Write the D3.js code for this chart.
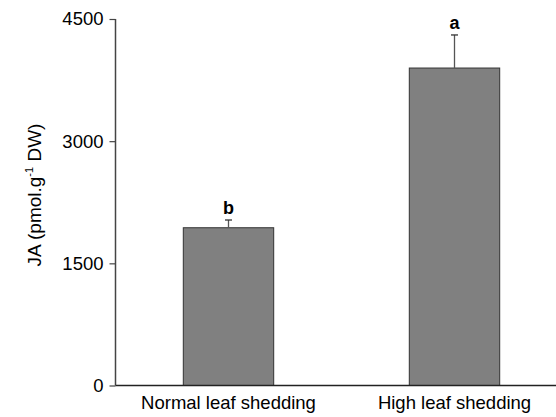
<!DOCTYPE html>
<html>
<head>
<meta charset="utf-8">
<script src="https://cdn.jsdelivr.net/npm/d3@7"></script>
<style>
  html, body { margin: 0; padding: 0; background: #fff; }
  svg { display: block; font-family: "Liberation Sans", Arial, Helvetica, sans-serif; }
</style>
</head>
<body>
<svg id="chart" width="556" height="417"></svg>
<script>
const categories = ["Normal leaf shedding", "High leaf shedding"];
const values = [1937, 3898];
const errors = [95, 406];
const letters = ["b", "a"];
const yTicks = [0, 1500, 3000, 4500];

const svg = d3.select("#chart");
const x0 = 115.5, y0 = 385.5, yTop = 19;

const x = d3.scaleBand().domain(categories).range([x0, 567.5]).paddingInner(0.6).paddingOuter(0.3);
const y = d3.scaleLinear().domain([0, 4500]).range([y0, yTop]);

// bars
svg.selectAll("rect.bar").data(categories).join("rect")
  .attr("class", "bar")
  .attr("x", d => x(d))
  .attr("y", (d, i) => y(values[i]))
  .attr("width", x.bandwidth())
  .attr("height", (d, i) => y0 - y(values[i]))
  .attr("fill", "#808080")
  .attr("stroke", "#333")
  .attr("stroke-width", 1);

// error bars
const eb = svg.selectAll("g.err").data(categories).join("g").attr("class", "err");
eb.append("line")
  .attr("x1", d => x(d) + x.bandwidth() / 2)
  .attr("x2", d => x(d) + x.bandwidth() / 2)
  .attr("y1", (d, i) => y(values[i]))
  .attr("y2", (d, i) => y(values[i] + errors[i]))
  .attr("stroke", "#555").attr("stroke-width", 1.3);
eb.append("line")
  .attr("x1", d => x(d) + x.bandwidth() / 2 - 3.5)
  .attr("x2", d => x(d) + x.bandwidth() / 2 + 3.5)
  .attr("y1", (d, i) => y(values[i] + errors[i]))
  .attr("y2", (d, i) => y(values[i] + errors[i]))
  .attr("stroke", "#333").attr("stroke-width", 1.3);

// significance letters
svg.selectAll("text.sig").data(categories).join("text")
  .attr("class", "sig")
  .attr("x", d => x(d) + x.bandwidth() / 2)
  .attr("y", (d, i) => y(values[i] + errors[i]) - 6)
  .attr("text-anchor", "middle")
  .attr("font-weight", "bold")
  .attr("font-size", 18)
  .attr("fill", "#000")
  .text((d, i) => letters[i]);

// y axis
const yAxis = d3.axisLeft(y).tickValues(yTicks).tickSize(6).tickPadding(6).tickFormat(d3.format("d"));
const gy = svg.append("g").attr("transform", `translate(${x0},0)`).call(yAxis);
gy.attr("font-size", 18.5).attr("font-family", "Liberation Sans, Arial, sans-serif");
gy.select(".domain").remove();
gy.selectAll(".tick line").attr("stroke", "#444").attr("stroke-width", 1.2);
gy.selectAll(".tick text").attr("font-size", 18.5).attr("fill", "#000");
svg.append("line").attr("x1", x0).attr("x2", x0).attr("y1", yTop).attr("y2", y0)
  .attr("stroke", "#444").attr("stroke-width", 1.5);

// x axis
const xAxis = d3.axisBottom(x).tickSize(0).tickPadding(10);
const gx = svg.append("g").attr("transform", `translate(0,${y0})`).call(xAxis);
gx.attr("font-size", 18.5).attr("font-family", "Liberation Sans, Arial, sans-serif");
gx.select(".domain").remove();
gx.selectAll(".tick text").attr("font-size", 18.5).attr("fill", "#000");
svg.append("line").attr("x1", x0).attr("x2", 556).attr("y1", y0).attr("y2", y0)
  .attr("stroke", "#222").attr("stroke-width", 1.5);

// y title
const t = svg.append("text")
  .attr("transform", "translate(41,195) rotate(-90)")
  .attr("text-anchor", "middle")
  .attr("font-size", 19)
  .attr("fill", "#000");
t.append("tspan").text("JA (pmol.g");
t.append("tspan").attr("font-size", 11).attr("dy", -8).text("-1");
t.append("tspan").attr("dy", 8).text(" DW)");
</script>
</body>
</html>
